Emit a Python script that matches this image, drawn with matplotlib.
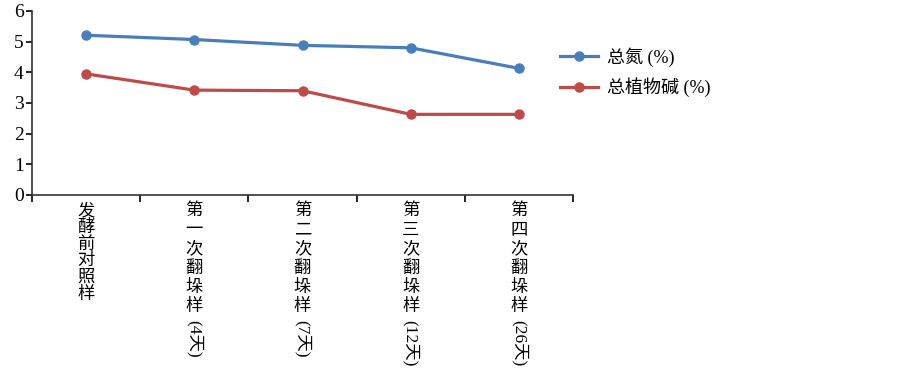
import matplotlib
matplotlib.use('Agg')
import matplotlib.pyplot as plt

plt.rcParams['font.family'] = ['Liberation Serif', 'Noto Sans CJK SC', 'DejaVu Sans']

# datos
categorias = ['发酵前对照样', '第一次翻垛样', '第二次翻垛样', '第三次翻垛样', '第四次翻垛样']
sufijos = ['', '(4天)', '(7天)', '(12天)', '(26天)']
nitrogeno = [5.21, 5.07, 4.88, 4.80, 4.13]
alcaloides = [3.95, 3.42, 3.40, 2.63, 2.63]
series_nombres = ['总氮 (%)', '总植物碱 (%)']

azul = '#4A7EBB'
rojo = '#BE4B48'

fig = plt.figure(figsize=(9.03, 3.70), dpi=100)
ax = fig.add_axes([32 / 903, 1 - 195 / 370, (573 - 32) / 903, (195 - 11) / 370])

x = list(range(len(categorias)))
ax.plot(x, nitrogeno, color=azul, lw=2.3, marker='o', ms=6.5, label=series_nombres[0])
ax.plot(x, alcaloides, color=rojo, lw=2.3, marker='o', ms=6.5, label=series_nombres[1])

ax.set_xlim(-0.5, len(categorias) - 0.5)
ax.set_ylim(0, 6)
ax.set_yticks(range(0, 7))
ax.tick_params(axis='y', labelsize=14, length=4, width=1.2, direction='out', pad=2)

# marcas del eje x entre categorías
ax.set_xticks([i - 0.5 for i in range(len(categorias) + 1)])
ax.set_xticklabels([])
ax.tick_params(axis='x', length=5, width=1.2, direction='out')

for lado in ['top', 'right']:
    ax.spines[lado].set_visible(False)
for lado in ['left', 'bottom']:
    ax.spines[lado].set_linewidth(1.2)
    ax.spines[lado].set_color('#333333')

# etiquetas verticales: caracteres apilados + sufijo girado
for i, (cat, suf) in enumerate(zip(categorias, sufijos)):
    paso = 12.0 if i == 0 else 13.8  # puntos entre caracteres
    y0 = -6
    for k, ch in enumerate(cat):
        ax.annotate(ch, xy=(i, 0), xycoords=('data', 'axes fraction'),
                    xytext=(0, y0 - k * paso), textcoords='offset points',
                    ha='center', va='top', fontsize=12.5)
    if suf:
        ax.annotate(suf, xy=(i, 0), xycoords=('data', 'axes fraction'),
                    xytext=(0, y0 - len(cat) * paso - 1), textcoords='offset points',
                    ha='center', va='top', rotation=-90, fontsize=12.5)

fig.legend(loc='upper left', bbox_to_anchor=(544 / 903, 1 - 31 / 370), frameon=False,
           fontsize=13, handlelength=2.1, labelspacing=0.6, handletextpad=0.5)

plt.savefig('out.png', dpi=100)
